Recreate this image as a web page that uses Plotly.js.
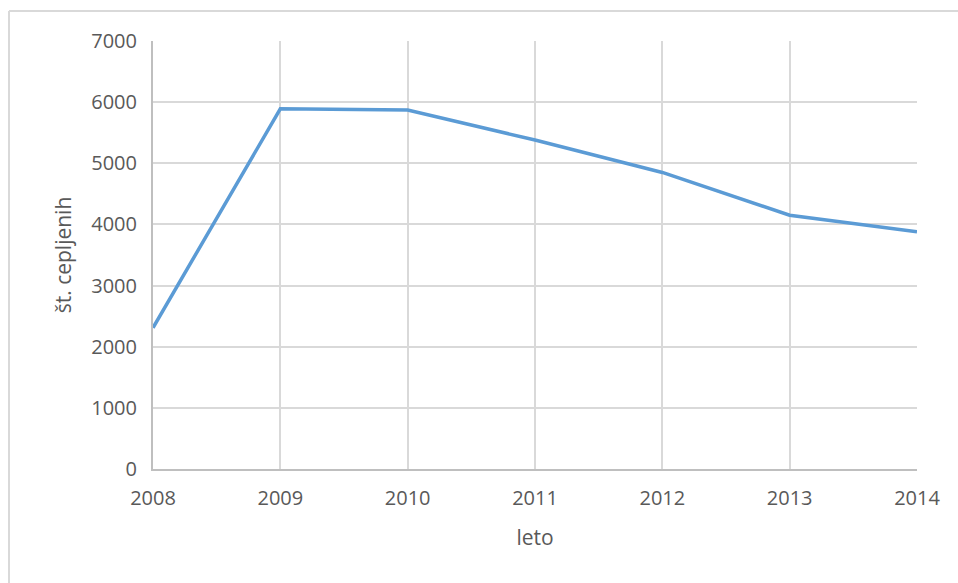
<!DOCTYPE html>
<html>
<head>
<meta charset="utf-8">
<script src="https://cdn.plot.ly/plotly-3.0.1.min.js"></script>
<style>
html,body{margin:0;padding:0;background:#fff;}
#chart{width:958px;height:583px;}
</style>
</head>
<body>
<div id="chart"></div>
<script>
const years = [2008, 2009, 2010, 2011, 2012, 2013, 2014];
const vaccinated = [2310, 5890, 5870, 5380, 4850, 4150, 3880];
const yTicks = [0, 1000, 2000, 3000, 4000, 5000, 6000, 7000];
const xTitle = 'leto';
const yTitle = 'št. cepljenih';

const W = 958, H = 583, L = 153, R = 41, T = 41, B = 114;
const pw = W - L - R, ph = H - T - B;
const px = v => (v - L) / pw;
const py = v => (H - B - v) / ph;

const font = {family: 'Open Sans, sans-serif', size: 20, color: '#595959'};
const tfont = {family: 'Open Sans, sans-serif', size: 21, color: '#595959'};

Plotly.newPlot('chart', [{
  x: years, y: vaccinated, type: 'scatter', mode: 'lines',
  line: {color: '#5b9bd5', width: 3.5}, hoverinfo: 'x+y'
}], {
  width: W, height: H,
  margin: {l: L, r: R, t: T, b: B},
  paper_bgcolor: '#fff', plot_bgcolor: '#fff',
  showlegend: false,
  font: font,
  xaxis: {
    range: [2008, 2014], tickvals: years, ticktext: years.map(String),
    showgrid: true, gridcolor: '#d9d9d9', gridwidth: 2,
    showline: true, linecolor: '#bfbfbf', linewidth: 2,
    zeroline: false, ticks: 'outside', ticklen: 10, tickcolor: 'rgba(0,0,0,0)', tickfont: font,
    title: {text: xTitle, font: tfont, standoff: 20}
  },
  yaxis: {
    range: [0, 7000], tickvals: yTicks,
    showgrid: true, gridcolor: '#d9d9d9', gridwidth: 2,
    showline: true, linecolor: '#bfbfbf', linewidth: 2,
    zeroline: false, ticks: 'outside', ticklen: 10, tickcolor: 'rgba(0,0,0,0)', tickfont: font,
    title: {text: yTitle, font: tfont, standoff: 14}
  },
  shapes: [
    {type: 'line', xref: 'paper', yref: 'paper', x0: px(9), x1: px(960), y0: py(11), y1: py(11),
     line: {color: '#d9d9d9', width: 2}},
    {type: 'line', xref: 'paper', yref: 'paper', x0: px(9), x1: px(9), y0: py(11), y1: py(590),
     line: {color: '#d9d9d9', width: 2}}
  ]
}, {displayModeBar: false, staticPlot: true});
</script>
</body>
</html>
